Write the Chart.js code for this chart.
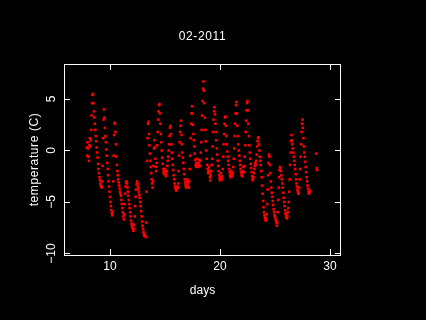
<!DOCTYPE html>
<html>
<head>
<meta charset="utf-8">
<script src="https://cdn.jsdelivr.net/npm/chart.js@4/dist/chart.umd.min.js"></script>
<style>
html, body { margin: 0; padding: 0; background: #000; }
canvas { display: block; }
</style>
</head>
<body>
<canvas id="myChart" width="426" height="320"></canvas>
<script>
// hourly temperatures (C), one array per day of the month, index = hour
var day7 = [null, null, null, null, null, null, null, null, null, null, null, null,
    null, null, null, null, null, null, null, null, null, 0.3, -0.5, 0.8];
var day8 = [0.2, -0.6, -1.0, 0.5, 1.2, 0.4, 1.0, 2.0, 3.4, 4.6, 5.4, 5.5,
    4.6, 3.8, 3.2, 2.6, 2.0, 1.4, 0.9, 0.3, -0.2, -0.7, -1.3, -1.8];
var day9 = [-2.2, -2.6, -2.9, -3.2, -3.4, -3.5, -3.6, -3.0, -1.5, 1.2, 3.0, 4.0,
    3.2, 2.2, 1.4, 0.8, 0.1, -0.5, -1.2, -1.8, -2.4, -3.0, -3.5, -4.0];
var day10 = [-4.5, -5.0, -5.4, -5.8, -6.1, -6.3, -6.0, -3.0, -0.5, 1.5, 2.7, 2.6,
    1.8, 0.6, -0.6, -1.4, -2.0, -2.4, -2.8, -3.1, -3.4, -3.7, -4.0, -4.2];
var day11 = [-4.4, -4.8, -5.2, -5.6, -6.0, -6.4, -6.7, -6.2, -5.2, -4.2, -3.5, -3.1,
    -3.0, -3.2, -3.6, -4.0, -4.4, -4.8, -5.2, -5.6, -6.0, -6.4, -6.8, -7.1];
var day12 = [-7.3, -7.5, -7.6, -7.8, -7.6, -7.2, -6.4, -5.4, -4.5, -3.8, -3.3, -3.0,
    -3.2, -3.5, -3.7, -4.0, -4.3, -4.6, -5.0, -5.4, -5.9, -6.4, -6.9, -7.3];
var day13 = [-7.6, -7.9, -8.1, -8.3, -8.2, -8.3, -8.4, -7.0, -4.0, -1.0, 1.2, 2.6,
    2.8, 1.6, 0.5, -0.3, -1.0, -1.6, -2.2, -2.8, -3.2, -3.6, -3.0, -1.5];
var day14 = [0.2, 1.0, 0.3, -0.8, -1.6, -2.0, -1.2, 0.5, 1.8, 3.0, 3.8, 4.4,
    4.5, 3.6, 2.6, 1.6, 0.8, 0.0, -0.7, -1.3, -1.8, -2.1, -2.3, -2.0];
var day15 = [-1.8, -2.2, -2.5, -2.4, -2.0, -1.5, -1.0, -0.6, 0.0, 0.6, 1.4, 2.2,
    2.4, 1.6, 0.6, -0.2, -0.8, -1.4, -1.9, -2.4, -2.8, -3.2, -3.5, -3.7];
var day16 = [-3.8, -3.9, -3.7, -3.5, -3.6, -3.2, -2.0, -0.5, 0.8, 1.8, 2.4, 2.9,
    1.5, 0.6, -0.2, -0.7, -1.2, -1.8, -2.3, -2.8, -3.1, -3.4, -3.6, -3.3];
var day17 = [-3.0, -2.8, -3.2, -3.5, -3.6, -3.0, -1.8, -0.5, 1.2, 2.6, 3.6, 4.3,
    3.6, 2.5, 1.6, 1.0, 0.4, -0.3, -0.9, -1.4, -1.6, -1.2, -0.8, -1.5];
var day18 = [-1.2, -1.6, -1.3, -0.9, -1.5, -1.0, -0.2, 0.8, 2.0, 3.4, 4.8, 6.0,
    6.7, 5.8, 4.6, 3.2, 2.0, 0.9, 0.0, -0.8, -1.4, -1.8, -2.2, -2.0];
var day19 = [-1.6, -2.2, -2.6, -2.9, -2.4, -2.0, -1.4, -0.8, 0.4, 1.8, 3.0, 3.8,
    4.2, 3.5, 2.6, 1.8, 1.0, 0.2, -0.4, -1.0, -1.5, -2.0, -2.4, -2.7];
var day20 = [-2.9, -2.6, -2.2, -2.6, -2.8, -2.5, -1.8, -0.6, 0.6, 1.6, 2.6, 3.2,
    3.3, 2.4, 1.4, 0.6, -0.1, -0.6, -1.0, -1.4, -1.8, -2.1, -2.4, -2.6];
var day21 = [-2.3, -2.0, -2.4, -2.5, -2.2, -1.6, -0.8, 0.2, 1.4, 2.6, 3.6, 4.4,
    4.7, 3.6, 2.4, 1.4, 0.6, 0.0, -0.5, -1.0, -1.4, -1.8, -2.1, -2.4];
var day22 = [-2.2, -2.5, -2.0, -1.6, -2.1, -1.5, -0.6, 0.5, 1.8, 2.9, 3.9, 4.6,
    4.8, 3.9, 2.6, 1.4, 0.5, -0.2, -0.8, -1.3, -1.7, -2.1, -2.5, -2.8];
var day23 = [-2.9, -2.6, -2.2, -1.8, -1.5, -1.2, -1.4, -1.0, -0.4, 0.4, 0.9, 1.2,
    1.3, 0.6, 0.0, -0.6, -1.0, -1.4, -2.0, -2.6, -3.4, -4.2, -4.9, -5.5];
var day24 = [-6.0, -6.3, -6.5, -6.7, -6.8, -6.6, -6.2, -5.2, -3.8, -2.4, -1.2, -0.4,
    -0.6, -1.4, -2.2, -3.0, -3.6, -4.1, -4.5, -4.9, -5.3, -5.7, -6.0, -6.3];
var day25 = [-6.4, -6.6, -6.8, -7.0, -7.3, -7.0, -6.0, -4.8, -3.6, -2.6, -1.9, -1.6,
    -1.7, -2.0, -2.4, -2.8, -3.2, -3.6, -4.1, -4.6, -5.0, -5.4, -5.8, -6.1];
var day26 = [-6.3, -6.5, -6.6, -6.4, -6.0, -5.6, -5.0, -4.0, -2.8, -1.4, -0.2, 0.9,
    1.5, 1.0, 0.6, 0.2, -0.2, -0.6, -1.0, -1.4, -1.8, -2.3, -2.8, -3.2];
var day27 = [-3.5, -3.8, -4.0, -4.2, -4.1, -3.6, -2.8, -1.8, -0.6, 0.6, 1.8, 2.6,
    3.0, 2.2, 1.2, 0.4, -0.2, -0.6, -1.1, -1.6, -2.1, -2.6, -3.0, -3.4];
var day28 = [-3.7, -4.0, -4.2, -4.1, -3.9, null, null, null, null, null, null, null,
    null, null, null, null, null, null, -0.3, -1.7, -1.9, null, null, null];

var firstDay = 7;
var days = [day7, day8, day9, day10, day11, day12, day13, day14, day15, day16, day17,
    day18, day19, day20, day21, day22, day23, day24, day25, day26, day27, day28];

var xTicks = [10, 20, 30];
var yTicks = [-10, -5, 0, 5];
var yTickLabels = ['\u221210', '\u22125', '0', '5'];

var points = [];
days.forEach(function (vals, d) {
    vals.forEach(function (v, h) {
        if (v !== null) points.push({ x: firstDay + d + h / 24, y: v });
    });
});

var FONT = '12px "Liberation Sans", Arial, sans-serif';

// R style box: frame, inward ticks on every side, labels and titles
var frame = {
    id: 'frame',
    afterDraw: function (chart) {
        var c = chart.ctx, a = chart.chartArea;
        var xs = chart.scales.x, ys = chart.scales.y;
        c.save();
        c.strokeStyle = '#fff';
        c.fillStyle = '#fff';
        c.lineWidth = 1;
        c.strokeRect(a.left + 0.5, a.top + 0.5, a.right - a.left, a.bottom - a.top);

        c.beginPath();
        xTicks.forEach(function (t) {
            var px = Math.round(xs.getPixelForValue(t)) + 0.5;
            c.moveTo(px, a.bottom); c.lineTo(px, a.bottom - 6);
            c.moveTo(px, a.top); c.lineTo(px, a.top + 6);
        });
        yTicks.forEach(function (t) {
            var py = Math.round(ys.getPixelForValue(t)) + 0.5;
            c.moveTo(a.left, py); c.lineTo(a.left + 6, py);
            c.moveTo(a.right + 1, py); c.lineTo(a.right - 5, py);
        });
        c.stroke();

        c.font = FONT;
        c.textAlign = 'center';
        c.textBaseline = 'middle';
        xTicks.forEach(function (t) {
            c.fillText(String(t), xs.getPixelForValue(t), 267);
        });
        yTicks.forEach(function (t, i) {
            c.save();
            c.translate(52, ys.getPixelForValue(t));
            c.rotate(-Math.PI / 2);
            c.fillText(yTickLabels[i], 0, 0);
            c.restore();
        });

        var cx = (a.left + a.right) / 2 + 0.5;
        c.fillText('days', cx, 291);

        c.letterSpacing = '0.6px';
        c.fillText('02-2011', cx, 37);
        c.save();
        c.translate(35, (a.top + a.bottom) / 2);
        c.rotate(-Math.PI / 2);
        c.fillText('temperature (C)', 0, 0);
        c.restore();
        c.restore();
    }
};

var ctx = document.getElementById('myChart').getContext('2d');
var chart = new Chart(ctx, {
    type: 'scatter',
    data: {
        datasets: [{
            label: 'temperature',
            data: points,
            backgroundColor: '#ff0000',
            borderWidth: 0,
            pointStyle: 'rect',
            pointRadius: 1.8,
            pointHoverRadius: 1.8
        }]
    },
    options: {
        responsive: false,
        animation: false,
        layout: {
            padding: { left: 64, top: 64, right: 86, bottom: 65 }
        },
        plugins: {
            legend: { display: false },
            tooltip: { enabled: false }
        },
        scales: {
            x: { type: 'linear', min: 5.82, max: 30.91, display: false },
            y: { type: 'linear', min: -10.15, max: 8.4, display: false }
        }
    },
    plugins: [frame]
});
</script>
</body>
</html>
